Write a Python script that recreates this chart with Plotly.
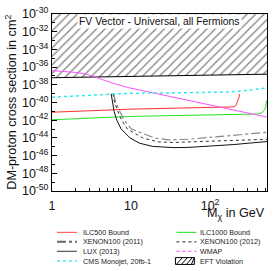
import plotly.graph_objects as go

# ---------------- data (mass in GeV, log10 of cross section in cm^2) ----------------
eft_m = [1, 10, 100, 525]
eft_s = [-37.2, -37.05, -36.9, -36.8]

wmap_m = [1, 2, 2.75, 4, 6, 9.6, 30, 100, 525]
wmap_s = [-36.4, -36.6, -36.8, -37.3, -37.85, -38.35, -39.3, -40.25, -41.65]

cms_m = [1, 3, 10, 30, 100, 172, 250, 350, 525]
cms_s = [-39.4, -39.15, -38.95, -38.92, -38.9, -38.82, -38.7, -38.55, -38.35]

ilc500_m = [1, 3, 10, 40, 150, 200, 212, 220, 228, 232, 236]
ilc500_s = [-41.1, -40.9, -40.75, -40.63, -40.55, -40.5, -40.35, -40.05, -39.7, -39.45, -39.05]

ilc1000_m = [1, 3, 10, 40, 150, 330, 400, 455, 490, 505, 517]
ilc1000_s = [-41.95, -41.75, -41.57, -41.47, -41.42, -41.36, -41.3, -41.14, -40.8, -40.5, -39.8]

lux_m = [5.6, 5.8, 6.1, 6.6, 7.5, 9.7, 12.8, 18.8, 27.7, 35, 54, 100, 200, 525]
lux_s = [-39.0, -40.0, -41.0, -42.0, -43.0, -44.0, -44.6, -44.96, -45.07, -45.1, -45.07, -44.95, -44.75, -44.41]

x12_m = [5.9, 6.2, 6.8, 7.6, 9.0, 14, 22, 35, 54, 100, 250, 525]
x12_s = [-39.0, -40.0, -41.0, -42.0, -43.0, -44.0, -44.45, -44.52, -44.45, -44.38, -44.28, -44.16]

x11_m = [6.0, 6.4, 7.2, 8.2, 10.1, 19.7, 30, 54, 150, 525]
x11_s = [-39.0, -40.0, -41.0, -42.0, -43.0, -44.0, -44.22, -44.15, -43.8, -43.36]

y_exps = list(range(-30, -51, -2))
x_ticks = [1, 10, 100]
x_ticktext = ["1", "10", "10<sup>2</sup>"]

FONT = "Liberation Sans, Arial, sans-serif"

def pw(v):
    return [10.0 ** s for s in v]

fig = go.Figure()

# EFT violation hatched region
hx = eft_m + [eft_m[-1], eft_m[0]]
hy = pw(eft_s) + [1e-30, 1e-30]
fig.add_trace(go.Scatter(x=hx, y=hy, mode="lines", fill="toself", line=dict(width=0),
                         fillcolor="white",
                         fillpattern=dict(shape="/", fgcolor="black", bgcolor="white", size=6, solidity=0.2),
                         hoverinfo="skip"))
fig.add_trace(go.Scatter(x=eft_m, y=pw(eft_s), mode="lines", line=dict(color="black", width=1)))

fig.add_trace(go.Scatter(x=ilc500_m, y=pw(ilc500_s), mode="lines", line=dict(color="#ff3030", width=1)))
fig.add_trace(go.Scatter(x=ilc1000_m, y=pw(ilc1000_s), mode="lines", line=dict(color="#20e020", width=1)))
fig.add_trace(go.Scatter(x=x11_m, y=pw(x11_s), mode="lines", line=dict(color="#888", width=1.2, dash="dashdot")))
fig.add_trace(go.Scatter(x=x12_m, y=pw(x12_s), mode="lines", line=dict(color="#333", width=1, dash="dot")))
fig.add_trace(go.Scatter(x=lux_m, y=pw(lux_s), mode="lines", line=dict(color="#111", width=1)))
fig.add_trace(go.Scatter(x=wmap_m, y=pw(wmap_s), mode="lines", line=dict(color="#ff50ff", width=1)))
fig.add_trace(go.Scatter(x=cms_m, y=pw(cms_s), mode="lines", line=dict(color="#30e8f0", width=1.5, dash="dot")))

# geometry helpers (pixel -> paper)
L, R, T, B, W, H = 52, 5, 9, 80, 273, 271
PW, PH = W - L - R, H - T - B
def px(x):
    return (x - L) / PW
def py(y):
    return (T + PH - y) / PH

annotations = [
    dict(text="FV Vector - Universal, all Fermions", x=px(160.5), y=py(16.7), xref="paper", yref="paper",
         xanchor="center", yanchor="middle",
         showarrow=False, font=dict(family=FONT, size=10.4, color="#111"), bgcolor="white", borderpad=1),
    dict(text="DM-proton cross section in cm<sup>2</sup>", x=px(10), y=py(100), xref="paper", yref="paper",
         xanchor="center", yanchor="middle",
         showarrow=False, textangle=-90, font=dict(family=FONT, size=12.6, color="#111")),
    dict(text="M<sub>χ</sub> in GeV", x=1.0, y=py(215), xref="paper", yref="paper", xanchor="right",
         yanchor="middle", showarrow=False, font=dict(family=FONT, size=12.6, color="#111")),
]

shapes = []
legend_items = [
    ("ILC500 Bound", "#ff4040", "solid", 1, 0, 0),
    ("ILC1000 Bound", "#20e020", "solid", 1, 1, 0),
    ("XENON100 (2011)", "#666", "dashdot", 2, 0, 1),
    ("XENON100 (2012)", "#222", "dot", 1, 1, 1),
    ("LUX (2013)", "#333", "solid", 1, 0, 2),
    ("WMAP", "#ff40ff", "dot", 1, 1, 2),
    ("CMS Monojet, 20fb-1", "#40f0f0", "dot", 1.5, 0, 3),
]
col_line = [(57, 77), (177, 197)]
col_text = [81, 199]
rows = [233.5, 243.3, 253, 263]
for label, color, dash, wdt, c, r in legend_items:
    shapes.append(dict(type="line", xref="paper", yref="paper", x0=px(col_line[c][0]), x1=px(col_line[c][1]),
                       y0=py(rows[r]), y1=py(rows[r]), line=dict(color=color, width=wdt, dash=dash)))
    annotations.append(dict(text=label, x=px(col_text[c]), y=py(rows[r]), xref="paper", yref="paper",
                            xanchor="left", yanchor="middle", showarrow=False,
                            font=dict(family=FONT, size=7.2, color="#222")))
# EFT legend box with hatch
bx0, bx1, by0, by1 = 176, 195, 259.5, 266.5
shapes.append(dict(type="rect", xref="paper", yref="paper", x0=px(bx0), x1=px(bx1), y0=py(by1), y1=py(by0),
                   line=dict(color="black", width=1), fillcolor="white"))
for k in range(4):
    xs = bx0 + 1 + k * 5
    shapes.append(dict(type="line", xref="paper", yref="paper", x0=px(xs), x1=px(min(xs + 6, bx1)),
                       y0=py(by1), y1=py(by0), line=dict(color="black", width=1)))
annotations.append(dict(text="EFT Violation", x=px(199), y=py(263), xref="paper", yref="paper",
                        xanchor="left", yanchor="middle", showarrow=False,
                        font=dict(family=FONT, size=7.2, color="#222")))

minor_x = [m * 10 ** d for d in range(0, 3) for m in range(2, 10) if m * 10 ** d < 525]

fig.update_layout(
    width=W, height=H, margin=dict(l=L, r=R, t=T, b=B), showlegend=False,
    plot_bgcolor="white", paper_bgcolor="white",
    font=dict(family=FONT, color="#111"),
    annotations=annotations, shapes=shapes,
    xaxis=dict(type="log", range=[0, 2.72], showgrid=False, zeroline=False,
               showline=True, linecolor="black", linewidth=1, mirror=True,
               ticks="inside", ticklen=6, tickcolor="black", ticklabelstandoff=3,
               tickvals=x_ticks, ticktext=x_ticktext, tickfont=dict(size=12.5, family=FONT),
               minor=dict(ticks="inside", ticklen=3, tickcolor="black", tickvals=minor_x)),
    yaxis=dict(type="log", range=[-50, -30], showgrid=False, zeroline=False,
               showline=True, linecolor="black", linewidth=1, mirror=True,
               ticks="inside", ticklen=5, tickcolor="black",
               tickvals=[10.0 ** e for e in y_exps],
               ticktext=["10<sup>%d</sup>" % e for e in y_exps], tickfont=dict(size=12.5, family=FONT),
               minor=dict(ticks="inside", ticklen=3, tickcolor="black",
                          tickvals=[10.0 ** e for e in range(-31, -50, -2)])),
)

fig.write_html("out.html", config={"displayModeBar": False},
               post_script="document.body.style.margin='0';")
